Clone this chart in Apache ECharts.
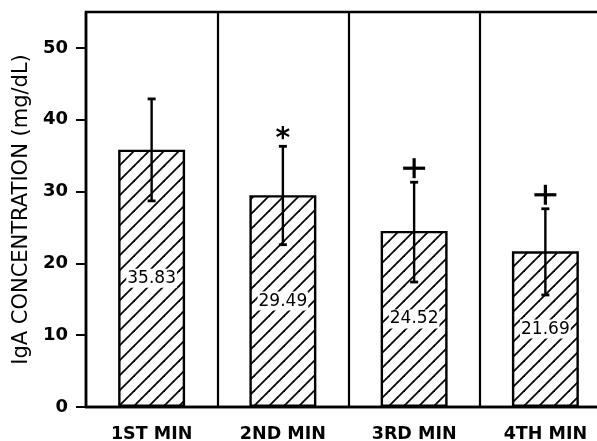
<!DOCTYPE html>
<html><head><meta charset="utf-8">
<script src="https://cdn.jsdelivr.net/npm/echarts@6/dist/echarts.min.js"></script>
<style>html,body{margin:0;padding:0;background:#fff}#c{width:597px;height:441px}</style>
</head><body><div id="c"></div>
<script>
const categories = ['1ST MIN', '2ND MIN', '3RD MIN', '4TH MIN'];
const means = [35.83, 29.49, 24.52, 21.69];
const errHigh = [42.9, 36.3, 31.3, 27.6];
const errLow = [28.7, 22.6, 17.4, 15.6];
const markers = ['', '*', '+', '+'];
const yTicks = [0, 10, 20, 30, 40, 50];

// diagonal hatch pattern
const pc = document.createElement('canvas');
pc.width = 15; pc.height = 15;
const g = pc.getContext('2d');
g.fillStyle = '#fff'; g.fillRect(0, 0, 15, 15);
g.strokeStyle = '#000'; g.lineWidth = 1.8;
[0, 15, 30].forEach(k => {
  g.beginPath(); g.moveTo(-1, k + 1); g.lineTo(k + 1, -1); g.stroke();
});

const errData = categories.map((c, i) => [i, errHigh[i], errLow[i]]);

const chart = echarts.init(document.getElementById('c'), null, {renderer: 'canvas'});
chart.setOption({
  animation: false,
  backgroundColor: '#fff',
  grid: {left: 86, top: 12, width: 525, height: 395, outerBoundsMode: 'none', containLabel: false,
    show: true, borderColor: '#000', borderWidth: 2.4, backgroundColor: 'transparent'},
  xAxis: {
    type: 'category', data: categories, boundaryGap: true,
    axisLine: {lineStyle: {color: '#000', width: 2.4}},
    axisTick: {show: false},
    axisLabel: {color: '#000', fontSize: 17.5, fontWeight: 'bold', fontFamily: 'DejaVu Sans', margin: 18},
    splitLine: {show: true, lineStyle: {color: '#000', width: 2.2}}
  },
  yAxis: {
    type: 'value', min: 0, max: 55, interval: 10,
    name: 'IgA CONCENTRATION (mg/dL)', nameLocation: 'middle', nameGap: 44,
    nameTextStyle: {color: '#000', fontSize: 21, fontFamily: 'DejaVu Sans', padding: [0, 0, 0, 0]},
    axisLine: {show: true, lineStyle: {color: '#000', width: 2.4}},
    axisTick: {show: true, length: 10, lineStyle: {color: '#000', width: 2}, customValues: yTicks},
    axisLabel: {color: '#000', fontSize: 18, fontWeight: 'bold', fontFamily: 'DejaVu Sans', margin: 18, customValues: yTicks},
    splitLine: {show: false}
  },
  series: [
    {
      type: 'bar', data: means, barWidth: '51%',
      itemStyle: {color: {image: pc, repeat: 'repeat'}, borderColor: '#000', borderWidth: 2.4},
      label: {show: true, position: 'inside', formatter: p => p.value.toFixed(2),
        color: '#000', fontSize: 17, fontFamily: 'DejaVu Sans', backgroundColor: '#fff', padding: [1, 1]}
    },
    {
      type: 'custom', data: errData, z: 5,
      encode: {x: 0, y: [1, 2]},
      renderItem(params, api) {
        const i = api.value(0);
        const hi = api.coord([i, api.value(1)]);
        const lo = api.coord([i, api.value(2)]);
        const x = hi[0], cap = 4;
        const st = {stroke: '#000', lineWidth: 2.4};
        const children = [
          {type: 'line', shape: {x1: x, y1: hi[1], x2: x, y2: lo[1]}, style: st},
          {type: 'line', shape: {x1: x - cap, y1: hi[1], x2: x + cap, y2: hi[1]}, style: {stroke: '#000', lineWidth: 2.8}},
          {type: 'line', shape: {x1: x - cap, y1: lo[1], x2: x + cap, y2: lo[1]}, style: {stroke: '#000', lineWidth: 2.8}}
        ];
        const m = markers[params.dataIndex];
        if (m === '+') {
          const cy = hi[1] - 14;
          children.push({type: 'line', shape: {x1: x - 11, y1: cy, x2: x + 11, y2: cy}, style: {stroke: '#000', lineWidth: 3.2}});
          children.push({type: 'line', shape: {x1: x, y1: cy - 10, x2: x, y2: cy + 10}, style: {stroke: '#000', lineWidth: 3.2}});
        } else if (m === '*') {
          children.push({type: 'text', style: {text: '*', x: x, y: hi[1] - 7, align: 'center', verticalAlign: 'middle',
            fill: '#000', fontSize: 28, fontWeight: 'bold', fontFamily: 'DejaVu Sans'}});
        }
        return {type: 'group', children};
      }
    }
  ]
});
</script></body></html>
